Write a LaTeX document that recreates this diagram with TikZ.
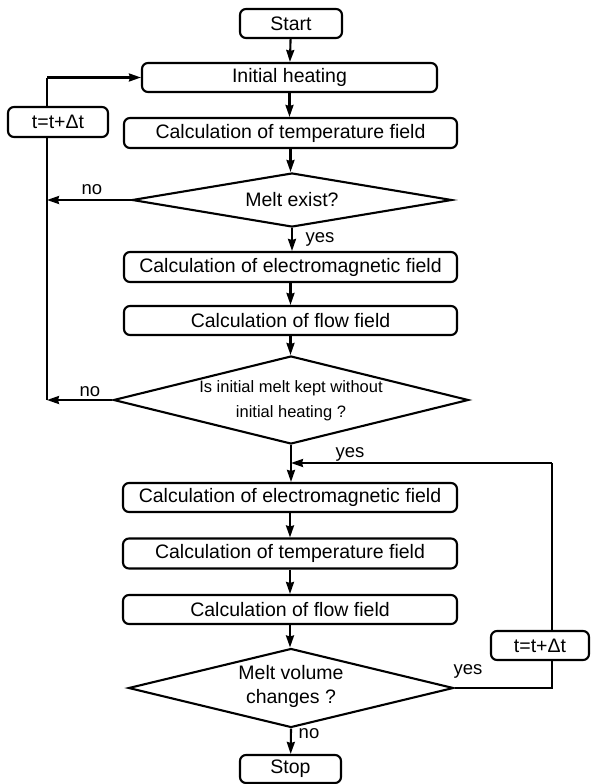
\documentclass[tikz,border=0pt]{standalone}
\usepackage{fontspec}
\setmainfont{Liberation Sans}
\usetikzlibrary{arrows.meta,shapes.geometric}
\begin{document}
\begin{tikzpicture}[x=1pt,y=-1pt,
 box/.style={draw,line width=2.1pt,rounded corners=6pt,fill=white,inner sep=0pt,font=\fontsize{19.5}{23}\selectfont},
 dec/.style={draw,diamond,line width=2.1pt,inner sep=0pt},
 lbl/.style={font=\fontsize{18.5}{22}\selectfont},
 small/.style={font=\fontsize{16.5}{25}\selectfont,align=center},
 arr/.style={line width=2.1pt,-{Stealth[length=12pt,width=8pt,inset=1pt]}},
 ln/.style={line width=2.1pt}]
\useasboundingbox (0,0) rectangle (590,784);

\node[box,minimum width=102pt,minimum height=29pt] (start) at (291,23.5) {Start};
\node[box,minimum width=295pt,minimum height=29pt] (init) at (289.5,77.5) {Initial heating};
\node[box,minimum width=333pt,minimum height=30pt] (temp1) at (290.5,133) {Calculation of temperature field};
\node[dec,minimum width=320pt,minimum height=54pt] (d1) at (292,200) {};
\node[box,draw=none,fill=none] (d1t) at (d1) {Melt exist?};
\node[box,minimum width=333pt,minimum height=30pt] (em1) at (290.5,267) {Calculation of electromagnetic field};
\node[box,minimum width=333pt,minimum height=29pt] (flow1) at (290.5,320.5) {Calculation of flow field};
\node[dec,minimum width=355pt,minimum height=88pt] (d2) at (291,400) {};
\node[small] (d2t) at (291,401) {Is initial melt kept without\\initial heating ?};
\node[box,minimum width=334pt,minimum height=29pt] (em2) at (290,497.5) {Calculation of electromagnetic field};
\node[box,minimum width=334pt,minimum height=30pt] (temp2) at (290,553.5) {Calculation of temperature field};
\node[box,minimum width=334pt,minimum height=29pt] (flow2) at (290,609.5) {Calculation of flow field};
\node[dec,minimum width=325pt,minimum height=79pt] (d3) at (291,688) {};
\node[align=center,font=\fontsize{19.5}{24}\selectfont] (d3t) at (291,686) {Melt volume\\changes ?};
\node[box,minimum width=101pt,minimum height=28pt] (stop) at (290.5,769) {Stop};

% main flow
\draw[arr] (start) -- (init);
\draw[arr] (init) -- (init |- temp1.north);
\draw[arr] (temp1) -- (temp1 |- d1.north);
\draw[arr] (d1.south) -- (d1.south |- em1.north);
\draw[arr] (em1) -- (em1 |- flow1.north);
\draw[arr] (flow1) -- (flow1 |- d2.north);
\draw[arr] (d2.south) -- (d2.south |- em2.north);
\draw[arr] (em2) -- (temp2);
\draw[arr] (temp2) -- (flow2);
\draw[arr] (flow2) -- (flow2 |- d3.north);
\draw[arr] (d3.south) -- (stop);

% left loop
\coordinate (lTop) at (47,77.5);
\draw[arr] (d1.west) -- (d1.west -| lTop);
\draw[arr] (d2.west) -- (d2.west -| lTop);
\draw[ln] (d2.west -| lTop) -- (lTop);
\draw[arr] (lTop) -- (init.west);

% right loop
\coordinate (rTop) at (552,463);
\draw[ln] (d3.east) -- (d3.east -| rTop) -- (rTop);
\draw[arr] (rTop) -- (rTop -| d2.south);

% time-step boxes
\node[box,minimum width=100pt,minimum height=30pt] (t1) at (58,122) {t=t+Δt};
\node[box,minimum width=98pt,minimum height=29pt] (t2) at (540,645.5) {t=t+Δt};

% labels
\node[lbl] (no1) at (92,190) {no};
\node[lbl] (yes1) at (320,239) {yes};
\node[lbl] (no2) at (90,392) {no};
\node[lbl] (yes2) at (350,454) {yes};
\node[lbl] (yes3) at (468,671) {yes};
\node[lbl] (no3) at (309,734) {no};
\end{tikzpicture}
\end{document}
